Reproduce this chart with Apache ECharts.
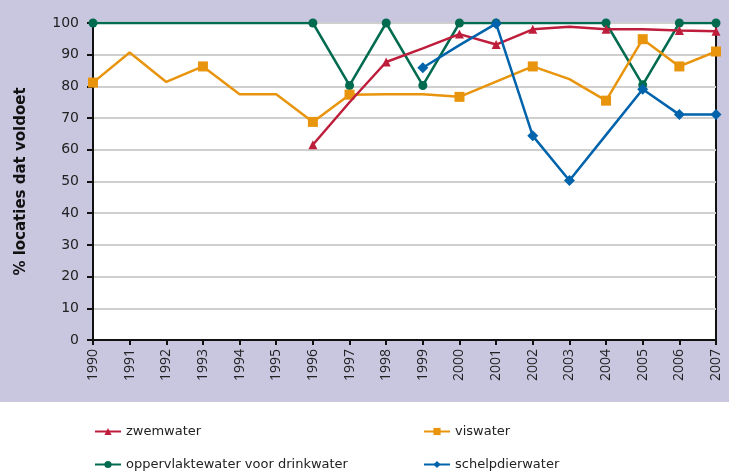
<!DOCTYPE html>
<html>
<head>
    <meta charset="utf-8">
    <title>% locaties dat voldoet</title>
    <script src="https://cdn.jsdelivr.net/npm/echarts@6/dist/echarts.min.js"></script>
    <style>
        html, body { margin: 0; padding: 0; background: #fff; }
        #main { width: 729px; height: 473px; }
    </style>
</head>
<body>
<div id="main"></div>
<script>
    var years = ['1990', '1991', '1992', '1993', '1994', '1995', '1996', '1997', '1998',
        '1999', '2000', '2001', '2002', '2003', '2004', '2005', '2006', '2007'];

    var zwemwater = [null, null, null, null, null, null, 61.6, 75, 87.7, 92, 96.5, 93.2, 98, 98.8, 98, 98, 97.6, 97.4];
    var viswater = [81.2, 90.7, 81.4, 86.3, 77.5, 77.5, 68.8, 77.4, 77.5, 77.5, 76.7, 81.5, 86.3, 82.3, 75.5, 94.9, 86.3, 91];
    var drinkwater = [100, 100, 100, 100, 100, 100, 100, 80.3, 100, 80.3, 100, 100, 100, 100, 100, 80.5, 100, 100];
    var schelpdier = [null, null, null, null, null, null, null, null, null, 85.9, 93, 99.8, 64.4, 50.3, 64.7, 79.1, 71.1, 71.1];

    // jaren waar in het origineel een marker staat
    var markZwem = ['1996', '1998', '2000', '2001', '2002', '2004', '2006', '2007'];
    var markVis = ['1990', '1993', '1996', '1997', '2000', '2002', '2004', '2005', '2006', '2007'];
    var markDrink = ['1990', '1996', '1997', '1998', '1999', '2000', '2001', '2004', '2005', '2006', '2007'];
    var markSchelp = ['1999', '2001', '2002', '2003', '2005', '2006', '2007'];

    var font = '"DejaVu Sans", sans-serif';
    var xfont = '"Open Sans", "Noto Sans", sans-serif';

    function withMarks(values, marks) {
        return values.map(function (v, i) {
            if (marks.indexOf(years[i]) < 0) {
                return { value: v, symbol: 'none' };
            }
            return v;
        });
    }

    function makeSeries(name, values, marks, color, symbol, size, z) {
        return {
            name: name,
            type: 'line',
            data: withMarks(values, marks),
            symbol: symbol,
            symbolSize: size,
            showAllSymbol: true,
            z: z,
            lineStyle: { color: color, width: 2.5 },
            itemStyle: { color: color },
            emphasis: { disabled: true }
        };
    }

    // één legenda per item, zodat ze in twee kolommen staan zoals in het origineel
    function makeLegend(name, left, top) {
        return {
            left: left,
            top: top,
            itemWidth: 26,
            itemHeight: 9,
            textStyle: { fontFamily: font, fontSize: 13, color: '#222' },
            data: [name]
        };
    }

    var chart = echarts.init(document.getElementById('main'));

    var option = {
        animation: false,
        backgroundColor: '#fff',
        graphic: [{
            type: 'rect',
            z: -10,
            shape: { x: 0, y: 0, width: 729, height: 402 },
            style: { fill: '#c9c6e0' }
        }],
        grid: {
            left: 93,
            right: 13,
            top: 23,
            bottom: 133,
            show: true,
            backgroundColor: '#fff',
            borderColor: '#111',
            borderWidth: 2
        },
        legend: [
            makeLegend('zwemwater', 89, 420),
            makeLegend('oppervlaktewater voor drinkwater', 89, 453),
            makeLegend('viswater', 418, 420),
            makeLegend('schelpdierwater', 418, 453)
        ],
        xAxis: {
            type: 'category',
            data: years,
            boundaryGap: false,
            axisLine: { lineStyle: { color: '#111', width: 2 } },
            axisTick: { show: true, alignWithLabel: true, length: 5, lineStyle: { color: '#111', width: 2 } },
            axisLabel: {
                rotate: 90,
                margin: 9,
                fontFamily: xfont,
                fontSize: 14,
                color: '#222'
            },
            splitLine: { show: false }
        },
        yAxis: {
            type: 'value',
            min: 0,
            max: 100,
            interval: 10,
            name: '% locaties dat voldoet',
            nameLocation: 'middle',
            nameGap: 64,
            nameTextStyle: { fontFamily: font, fontSize: 15, fontWeight: 'bold', color: '#111' },
            axisLine: { show: true, lineStyle: { color: '#111', width: 2 } },
            axisTick: { show: true, length: 6, lineStyle: { color: '#111', width: 2 } },
            axisLabel: { fontFamily: font, fontSize: 14, color: '#222', margin: 14 },
            splitLine: { show: true, lineStyle: { color: '#cfcfcf', width: 2 } }
        },
        series: [
            makeSeries('zwemwater', zwemwater, markZwem, '#be1e3c', 'triangle', 9, 4),
            makeSeries('viswater', viswater, markVis, '#e8940c', 'rect', 10, 3),
            makeSeries('oppervlaktewater voor drinkwater', drinkwater, markDrink, '#006b4f', 'circle', 9, 2),
            makeSeries('schelpdierwater', schelpdier, markSchelp, '#0063ab', 'diamond', 11, 5)
        ]
    };

    chart.setOption(option);
</script>
</body>
</html>
